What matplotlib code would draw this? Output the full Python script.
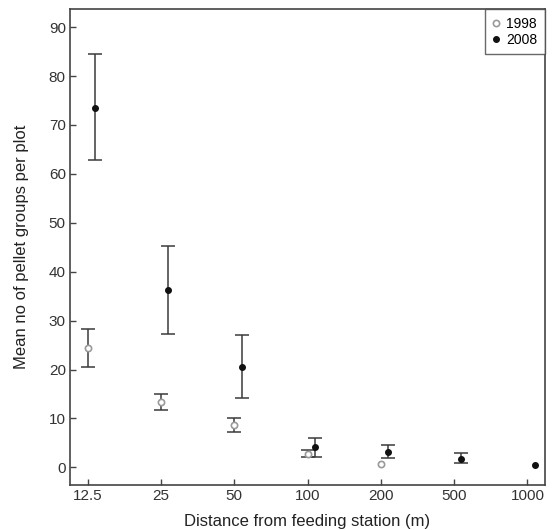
import matplotlib
matplotlib.use("Agg")
import matplotlib.pyplot as plt
import numpy as np

plt.rcParams['font.family'] = ['Liberation Sans', 'DejaVu Sans']

distances = ["12.5", "25", "50", "100", "200", "500", "1000"]

# 1998 survey: mean and error-bar limits (None = not recorded)
mean_1998 = [24.4, 13.3, 8.6, 2.7, 0.7, None, None]
upper_1998 = [28.2, 15.1, 10.1, 3.5, None, None, None]
lower_1998 = [20.5, 11.7, 7.2, 2.1, None, None, None]

# 2008 survey
mean_2008 = [73.5, 36.3, 20.6, 4.2, 3.1, 1.8, 0.5]
upper_2008 = [84.5, 45.3, 27.1, 6.1, 4.5, 2.9, None]
lower_2008 = [62.8, 27.3, 14.2, 2.2, 1.9, 0.9, None]

fig = plt.figure(figsize=(5.59, 5.30), dpi=100)
ax = fig.add_axes([70 / 559, 1 - 485 / 530, 475 / 559, 476 / 530])

x = np.arange(len(distances))
offset = 0.1
err_color = "#3a3a3a"


def draw_series(xpos, means, ups, lows, **mkw):
    for xi, m, u, l in zip(xpos, means, ups, lows):
        if m is None:
            continue
        if u is not None and l is not None:
            ax.errorbar([xi], [m], yerr=[[m - l], [u - m]], fmt="none",
                        ecolor=err_color, elinewidth=1.1, capsize=5,
                        capthick=1.1, zorder=2)
    xs = [xi for xi, m in zip(xpos, means) if m is not None]
    ys = [m for m in means if m is not None]
    return ax.plot(xs, ys, linestyle="none", zorder=3, **mkw)[0]


h98 = draw_series(x, mean_1998, upper_1998, lower_1998, marker="o",
                  markersize=4.5, markerfacecolor="white",
                  markeredgecolor="#9a9a9a", markeredgewidth=1.2, label="1998")
h08 = draw_series(x + offset, mean_2008, upper_2008, lower_2008, marker="o",
                  markersize=4, markerfacecolor="#111111",
                  markeredgecolor="#111111", label="2008")

ax.set_xlim(-0.24, 6.24)
ax.set_ylim(-3.6, 93.7)
ax.set_xticks(x)
ax.set_xticklabels(distances)
ax.set_yticks(np.arange(0, 91, 10))

for sp in ax.spines.values():
    sp.set_color("#444444")
    sp.set_linewidth(1.2)
ax.tick_params(direction="in", length=4, width=1, colors="#444444",
               labelcolor="#333333", labelsize=11, pad=3)

ax.set_xlabel("Distance from feeding station (m)", fontsize=12,
              color="#222222", labelpad=7.5)
ax.set_ylabel("Mean no of pellet groups per plot", fontsize=12,
              color="#222222", labelpad=14)

leg = ax.legend(handles=[h98, h08], loc="upper right", frameon=True,
                fancybox=False, borderaxespad=0, fontsize=10,
                handlelength=0.5, handletextpad=0.5, borderpad=0.55,
                labelspacing=0.15)
leg.get_frame().set_edgecolor("#444444")
leg.get_frame().set_linewidth(1.0)

fig.savefig("out.png", dpi=100)
